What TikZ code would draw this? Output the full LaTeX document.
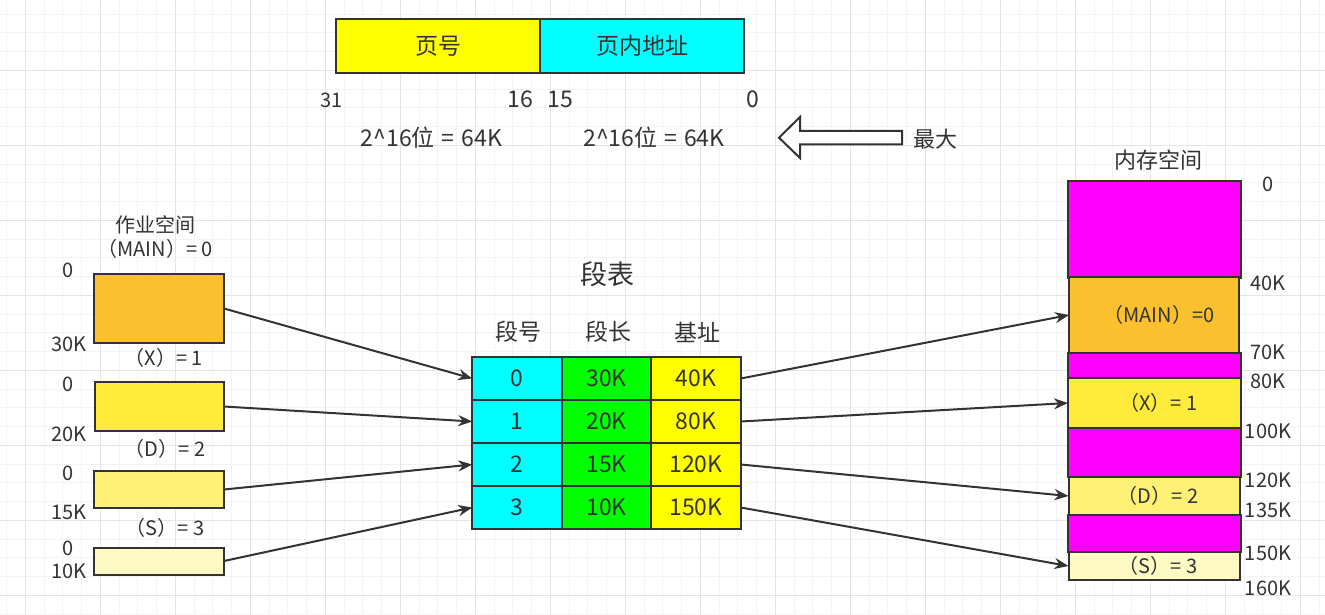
\documentclass[tikz,border=0pt]{standalone}
\usepackage{fontspec}
\setmainfont{Noto Sans CJK SC}
\usetikzlibrary{arrows.meta}
\definecolor{ink}{HTML}{333333}
\definecolor{gminor}{HTML}{F3F3F3}
\definecolor{gmajor}{HTML}{E4E4E4}
\definecolor{cyanc}{HTML}{00FFFF}
\definecolor{greenc}{HTML}{00FF00}
\definecolor{yellowc}{HTML}{FFFF00}
\definecolor{magc}{HTML}{FF00FF}
\definecolor{seg0}{HTML}{FBC02D}
\definecolor{seg1}{HTML}{FFEB3B}
\definecolor{seg2}{HTML}{FFF176}
\definecolor{seg3}{HTML}{FFF9C4}
\tikzset{
  box/.style={draw=ink, line width=2pt, inner sep=0pt, outer sep=0pt, text=ink},
  lbl/.style={text=ink, inner sep=0pt, font=\fontsize{20}{24}\selectfont},
  lblm/.style={text=ink, inner sep=0pt, font=\fontsize{22}{26}\selectfont},
  lblb/.style={text=ink, inner sep=0pt, font=\fontsize{23}{27}\selectfont},
  cell/.style={box, minimum width=89.5pt, minimum height=43pt, font=\fontsize{23}{27}\selectfont},
  arr/.style={draw=ink, line width=2pt, -{Stealth[length=14pt,width=11pt]}},
}
\begin{document}
\begin{tikzpicture}[x=1pt,y=-1pt]
\useasboundingbox (0,0) rectangle (1325,615);
\fill[white] (0,0) rectangle (1325,615);
% grid
\foreach \i in {-1,...,70} \draw[gminor, line width=1pt] ({25.3+18.75*\i},0) -- ++(0,615);
\foreach \i in {-3,...,29} \draw[gminor, line width=1pt] (0,{70.3+18.75*\i}) -- ++(1325,0);
\foreach \i in {0,...,17} \draw[gmajor, line width=1pt] ({25.3+75*\i},0) -- ++(0,615);
\foreach \i in {1,...,8} \draw[gmajor, line width=1pt] (0,{-4.7+75*\i}) -- ++(1325,0);

% top address format
\node[box, fill=yellowc, minimum width=204pt, minimum height=54pt, font=\fontsize{23}{27}\selectfont] (pn) at (438,46) {页号};
\node[box, fill=cyanc, minimum width=204pt, minimum height=54pt, font=\fontsize{23}{27}\selectfont] (po) at (642,46) {页内地址};
\node[lbl, font=\fontsize{20}{24}\selectfont] (b31) at (331.5,100) {31};
\node[lblb] (b16) at (520,99) {16};
\node[lblb] (b15) at (560,99) {15};
\node[lblb] (b0) at (753,99) {0};
\node[lblb] (w1) at (431.5,138) {2\^{}16位\hspace{7pt}=\hspace{7pt}64K};
\node[lblb] (w2) at (654,138) {2\^{}16位\hspace{7pt}=\hspace{7pt}64K};
\draw[ink, line width=2pt, fill=white, line join=miter] (779,137.7) -- (800,117) -- (800,131) -- (902,131) -- (902,144.5) -- (800,144.5) -- (800,158) -- cycle;
\node[lblm] (max) at (935,139) {最大};

% job space
\node[lbl] (jt1) at (155,225) {作业空间};
\node[lbl] (jt2) at (155,249) {（MAIN）= 0};
\node[box, fill=seg0, minimum width=130pt, minimum height=69pt] (j0) at (159,308.5) {};
\node[lbl] (j0a) at (68,270) {0};
\node[lbl] (j0b) at (69,344) {30K};
\node[lbl] (jt3) at (164,358) {（X）= 1};
\node[box, fill=seg1, minimum width=129pt, minimum height=49pt] (j1) at (159.5,406.5) {};
\node[lbl] (j1a) at (68,384) {0};
\node[lbl] (j1b) at (69,434) {20K};
\node[lbl] (jt4) at (165,449) {（D）= 2};
\node[box, fill=seg2, minimum width=130pt, minimum height=37pt] (j2) at (159,489.5) {};
\node[lbl] (j2a) at (68,473) {0};
\node[lbl] (j2b) at (69,512) {15K};
\node[lbl] (jt5) at (165,528) {（S）= 3};
\node[box, fill=seg3, minimum width=130pt, minimum height=27pt] (j3) at (159,561) {};
\node[lbl] (j3a) at (68,548) {0};
\node[lbl] (j3b) at (69,571) {10K};

% segment table
\node[lbl, font=\fontsize{27}{31}\selectfont] (tt) at (607,274) {段表};
\node[lblb] (h0) at (518,332) {段号};
\node[lblb] (h1) at (608,332) {段长};
\node[lblb] (h2) at (697,332) {基址};
\node[cell, fill=cyanc] (c00) at (517,378.5) {0};
\node[cell, fill=greenc] (c01) at (606.5,378.5) {30K};
\node[cell, fill=yellowc] (c02) at (696,378.5) {40K};
\node[cell, fill=cyanc] (c10) at (517,421.5) {1};
\node[cell, fill=greenc] (c11) at (606.5,421.5) {20K};
\node[cell, fill=yellowc] (c12) at (696,421.5) {80K};
\node[cell, fill=cyanc] (c20) at (517,464.5) {2};
\node[cell, fill=greenc] (c21) at (606.5,464.5) {15K};
\node[cell, fill=yellowc] (c22) at (696,464.5) {120K};
\node[cell, fill=cyanc] (c30) at (517,507.5) {3};
\node[cell, fill=greenc] (c31) at (606.5,507.5) {10K};
\node[cell, fill=yellowc] (c32) at (696,507.5) {150K};

% memory space
\node[lblm] (mt) at (1158,160) {内存空间};
\node[box, fill=magc, minimum width=173pt, minimum height=97pt] (mf0) at (1154.5,229) {};
\node[box, fill=seg0, minimum width=170pt, minimum height=76pt, font=\fontsize{20}{24}\selectfont] (m0) at (1154,315) {\hspace*{10pt}（MAIN）=0};
\node[box, fill=magc, minimum width=173pt, minimum height=25pt] (mf1) at (1154.5,365.5) {};
\node[box, fill=seg1, minimum width=173pt, minimum height=50pt, font=\fontsize{20}{24}\selectfont] (m1) at (1154.5,403) {\hspace*{8pt}（X）= 1};
\node[box, fill=magc, minimum width=173pt, minimum height=49pt] (mf2) at (1154.5,452.5) {};
\node[box, fill=seg2, minimum width=171pt, minimum height=38pt, font=\fontsize{20}{24}\selectfont] (m2) at (1154,496) {\hspace*{8pt}（D）= 2};
\node[box, fill=magc, minimum width=173pt, minimum height=37pt] (mf3) at (1154.5,533.5) {};
\node[box, fill=seg3, minimum width=171pt, minimum height=28pt, font=\fontsize{20}{24}\selectfont] (m3) at (1154,566) {\hspace*{8pt}（S）= 3};
\node[lbl] (r0) at (1268,184) {0};
\node[lbl] (r1) at (1268,283) {40K};
\node[lbl] (r2) at (1268,352) {70K};
\node[lbl] (r3) at (1268,381) {80K};
\node[lbl] (r4) at (1268,431) {100K};
\node[lbl] (r5) at (1268,480) {120K};
\node[lbl] (r6) at (1268,510) {135K};
\node[lbl] (r7) at (1268,553) {150K};
\node[lbl] (r8) at (1268,588) {160K};

% arrows
\draw[arr] (j0.east) -- (c00.west);
\draw[arr] (j1.east) -- (c10.west);
\draw[arr] (j2.east) -- (c20.west);
\draw[arr] (j3.east) -- (c30.west);
\draw[arr] (c02.east) -- (m0.west);
\draw[arr] (c12.east) -- (m1.west);
\draw[arr] (c22.east) -- (m2.west);
\draw[arr] (c32.east) -- (m3.west);
\end{tikzpicture}
\end{document}
